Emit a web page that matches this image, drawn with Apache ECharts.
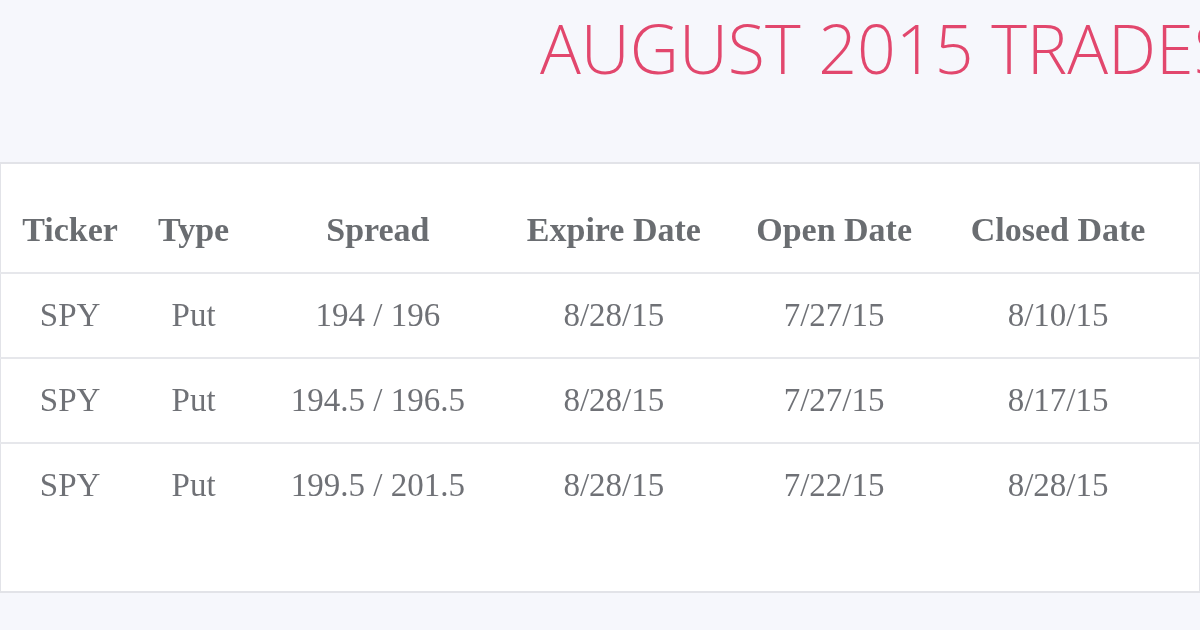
<!DOCTYPE html><html><head><meta charset="utf-8"><script src="https://cdn.jsdelivr.net/npm/echarts@6/dist/echarts.min.js"></script>
<style>html,body{margin:0;background:#f6f7fc}#c{width:1200px;height:630px}</style></head><body><div id="c"></div><script>
const headers=["Ticker","Type","Spread","Expire Date","Open Date","Closed Date"];
const tickers=["SPY","SPY","SPY"];
const types=["Put","Put","Put"];
const spreads=["194 / 196","194.5 / 196.5","199.5 / 201.5"];
const expireDates=["8/28/15","8/28/15","8/28/15"];
const openDates=["7/27/15","7/27/15","7/22/15"];
const closedDates=["8/10/15","8/17/15","8/28/15"];
const colX=[-24,110,310,566,805,1048];
const cols=[tickers,types,spreads,expireDates,openDates,closedDates];
const font='"Liberation Serif", serif';
const data=[];
headers.forEach((h,i)=>data.push({value:[colX[i],0],label:{formatter:h,fontWeight:'bold',fontSize:34,color:'#45484e'}}));
cols.forEach((c,i)=>c.forEach((v,r)=>data.push({value:[colX[i],r+1],label:{formatter:v,fontSize:33,color:'#4b4e54'}})));
const ch=echarts.init(document.getElementById('c'));
ch.setOption({backgroundColor:'#f6f7fc',
title:{text:'AUGUST 2015 TRADES',left:535,top:16,textStyle:{fontFamily:'"Open Sans"',fontWeight:300,fontSize:68,color:'#e2476d'}},
grid:{left:-100,right:-2,top:163,bottom:38,show:true,backgroundColor:'#fff',borderColor:'#e2e3e8',borderWidth:2},
xAxis:{type:'value',min:-100,max:1202,show:false},
yAxis:{type:'value',inverse:true,min:-0.82,max:4.23,show:false},
series:[{type:'scatter',symbolSize:0,silent:true,data:data,
label:{show:true,position:'inside',fontFamily:font},
markLine:{silent:true,symbol:'none',label:{show:false},lineStyle:{color:'#e6e7eb',width:2,type:'solid'},data:[{yAxis:0.47},{yAxis:1.47},{yAxis:2.47}]}}]});
</script></body></html>
